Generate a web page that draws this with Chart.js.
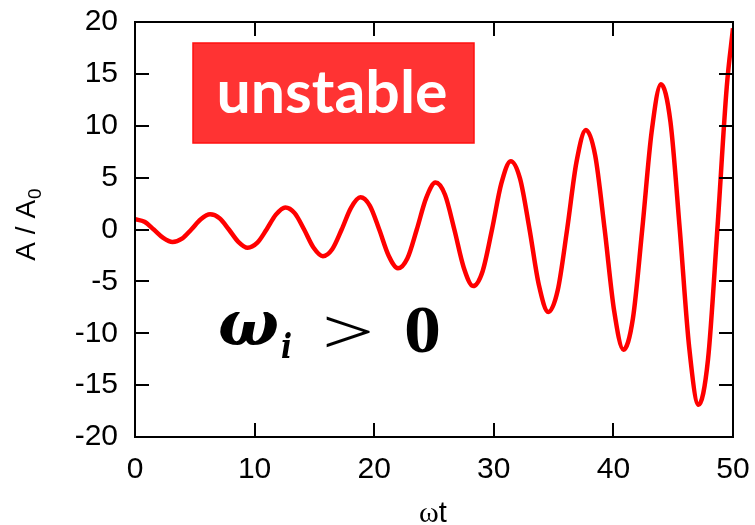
<!DOCTYPE html>
<html>
<head>
<meta charset="utf-8">
<script src="https://cdn.jsdelivr.net/npm/chart.js@4.4.1/dist/chart.umd.min.js"></script>
<style>
  html, body { margin: 0; padding: 0; background: #ffffff; }
  #wrap { width: 755px; height: 525px; }
</style>
</head>
<body>
<div id="wrap"><canvas id="c" width="755" height="525"></canvas></div>
<script>
// ωt values (every eighth of a period)
const omegaT = [
  0, 0.79, 1.57, 2.36, 3.14, 3.93, 4.71, 5.50, 6.28, 7.07,
  7.85, 8.64, 9.42, 10.21, 11.00, 11.78, 12.57, 13.35, 14.14, 14.92,
  15.71, 16.49, 17.28, 18.06, 18.85, 19.63, 20.42, 21.21, 21.99, 22.78,
  23.56, 24.35, 25.13, 25.92, 26.70, 27.49, 28.27, 29.06, 29.85, 30.63,
  31.42, 32.20, 32.99, 33.77, 34.56, 35.34, 36.13, 36.91, 37.70, 38.48,
  39.27, 40.06, 40.84, 41.63, 42.41, 43.20, 43.98, 44.77, 45.55, 46.34,
  47.12, 47.91, 48.69, 49.48, 50.00
];
// A / A0 values
const amplitude = [
  1.00, 0.74, 0, -0.81, -1.21, -0.89, 0, 0.98, 1.46, 1.08,
  0, -1.19, -1.76, -1.30, 0, 1.43, 2.13, 1.58, 0, -1.73,
  -2.57, -1.90, 0, 2.09, 3.10, 2.30, 0, -2.52, -3.74, -2.77,
  0, 3.05, 4.52, 3.35, 0, -3.68, -5.45, -4.04, 0, 4.44,
  6.59, 4.88, 0, -5.36, -7.95, -5.89, 0, 6.48, 9.60, 7.12,
  0, -7.82, -11.59, -8.59, 0, 9.44, 14.00, 10.38, 0, -11.40,
  -16.90, -12.53, 0, 13.77, 19.39
];
const xTicks = [0, 10, 20, 30, 40, 50];
const yTicks = [-20, -15, -10, -5, 0, 5, 10, 15, 20];
const xTitle = ['ω', 't'];
const yTitle = ['A / A', '0'];
const boxLabel = 'unstable';
const conditionText = ['ω', 'i', '>', '0'];

const SANS = '"Liberation Sans", Arial, sans-serif';

const decorPlugin = {
  id: 'decor',
  afterDraw(chart) {
    const ctx = chart.ctx;
    const a = chart.chartArea;
    const xs = chart.scales.x, ys = chart.scales.y;
    ctx.save();
    // frame
    ctx.strokeStyle = '#000';
    ctx.lineWidth = 2;
    ctx.strokeRect(a.left, a.top, a.right - a.left, a.bottom - a.top);
    // inward ticks on all four sides
    const tl = 14;
    ctx.beginPath();
    xTicks.forEach(v => {
      const px = Math.round(xs.getPixelForValue(v));
      ctx.moveTo(px, a.bottom); ctx.lineTo(px, a.bottom - tl);
      ctx.moveTo(px, a.top); ctx.lineTo(px, a.top + tl);
    });
    yTicks.forEach(v => {
      const py = Math.round(ys.getPixelForValue(v));
      ctx.moveTo(a.left, py); ctx.lineTo(a.left + tl, py);
      ctx.moveTo(a.right, py); ctx.lineTo(a.right - tl, py);
    });
    ctx.stroke();

    // x title "ωt"
    ctx.fillStyle = '#000';
    ctx.textBaseline = 'alphabetic';
    ctx.font = '30px "Liberation Serif", serif';
    const w1 = ctx.measureText(xTitle[0]).width;
    ctx.font = '29px ' + SANS;
    const w2 = ctx.measureText(xTitle[1]).width;
    let sx = 433 - (w1 + w2) / 2;
    ctx.font = '30px "Liberation Serif", serif';
    ctx.fillText(xTitle[0], sx, 522);
    ctx.font = '29px ' + SANS;
    ctx.fillText(xTitle[1], sx + w1, 522);

    // y title "A / A0" rotated
    ctx.save();
    ctx.translate(35, 225);
    ctx.rotate(-Math.PI / 2);
    ctx.font = '28px ' + SANS;
    const m1 = ctx.measureText(yTitle[0]).width;
    ctx.font = '19px ' + SANS;
    const m2 = ctx.measureText(yTitle[1]).width;
    const st = -(m1 + m2) / 2;
    ctx.font = '28px ' + SANS;
    ctx.fillText(yTitle[0], st, 0);
    ctx.font = '19px ' + SANS;
    ctx.fillText(yTitle[1], st + m1 + 1, 6);
    ctx.restore();

    // "unstable" box
    ctx.fillStyle = '#FF3333';
    ctx.fillRect(193, 43, 281, 100);
    ctx.strokeStyle = '#FF1111';
    ctx.lineWidth = 1.5;
    ctx.strokeRect(193, 43, 281, 100);
    ctx.fillStyle = '#FFFFFF';
    ctx.font = 'bold 60px Lato, "Open Sans", sans-serif';
    let bw = ctx.measureText(boxLabel).width;
    ctx.save();
    ctx.translate(332, 113);
    ctx.scale(231 / bw, 1);
    ctx.textAlign = 'center';
    ctx.fillText(boxLabel, 0, 0);
    ctx.restore();

    // ω_i > 0
    ctx.fillStyle = '#000';
    function fitText(txt, font, x0, x1, base) {
      ctx.font = font;
      const w = ctx.measureText(txt).width;
      ctx.save();
      ctx.translate(x0, base);
      ctx.scale((x1 - x0) / w, 1);
      ctx.textAlign = 'left';
      ctx.fillText(txt, 0, 0);
      ctx.restore();
    }
    fitText(conditionText[0], 'bold italic 64px "DejaVu Serif", serif', 218, 279, 345);
    fitText(conditionText[1], 'bold italic 34px "DejaVu Serif", serif', 281, 292, 358);
    fitText(conditionText[2], '64px "Liberation Serif", serif', 322, 374, 353);
    fitText(conditionText[3], 'bold 68px "Liberation Serif", serif', 404, 441, 352);
    ctx.restore();
  }
};

function zeroPad(s) { s.paddingTop = 0; s.paddingBottom = 0; s.paddingLeft = 0; s.paddingRight = 0; }

new Chart(document.getElementById('c'), {
  type: 'line',
  data: {
    datasets: [{
      data: omegaT.map((t, i) => ({ x: t, y: amplitude[i] })),
      borderColor: '#FF0000',
      borderWidth: 4.5,
      pointRadius: 0,
      fill: false,
      cubicInterpolationMode: 'monotone'
    }]
  },
  options: {
    responsive: false,
    devicePixelRatio: 1,
    animation: false,
    layout: { padding: { left: 0, right: 22, top: 22, bottom: 0 } },
    plugins: { legend: { display: false }, tooltip: { enabled: false } },
    scales: {
      x: {
        type: 'linear', min: 0, max: 50,
        afterBuildTicks: s => { s.ticks = xTicks.map(v => ({ value: v })); },
        ticks: { font: { size: 30, family: SANS }, color: '#000', padding: 7, maxRotation: 0 },
        grid: { display: false },
        border: { display: false },
        afterFit: s => { s.height = 88; zeroPad(s); }
      },
      y: {
        type: 'linear', min: -20, max: 20,
        afterBuildTicks: s => { s.ticks = yTicks.map(v => ({ value: v })); },
        ticks: { font: { size: 30, family: SANS }, color: '#000', padding: 9 },
        grid: { display: false },
        border: { display: false },
        afterFit: s => { s.width = 135; zeroPad(s); }
      }
    }
  },
  plugins: [decorPlugin]
});
</script>
</body>
</html>
